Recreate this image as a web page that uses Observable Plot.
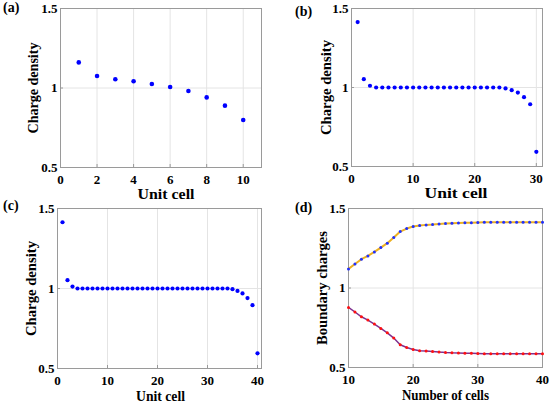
<!DOCTYPE html>
<html><head><meta charset="utf-8">
<script src="https://cdn.jsdelivr.net/npm/d3@7"></script>
<script src="https://cdn.jsdelivr.net/npm/@observablehq/plot@0.6"></script>
<style>
body{margin:0;background:#fff;}
#fig{position:relative;width:550px;height:406px;overflow:hidden;}
#fig svg{overflow:visible;}
#fig svg, #fig svg text{font-family:"Liberation Serif","Times New Roman",serif !important;font-weight:bold;}
.panel{position:absolute;}
.tag{position:absolute;font-family:"Liberation Serif","Times New Roman",serif;font-weight:bold;font-size:14px;line-height:1;}
</style></head>
<body><div id="fig"></div>
<script>
// ---- data ----
const cellsA = [1,2,3,4,5,6,7,8,9,10];
const densityA = [1.161,1.075,1.055,1.042,1.025,1.006,0.981,0.941,0.889,0.799];
const densityB = [1.414,1.053,1.011,
  1.0,1.0,1.0,1.0,1.0,1.0,1.0,1.0,1.0,1.0,1.0,1.0,1.0,1.0,1.0,1.0,1.0,1.0,1.0,1.0,1.0,
  0.994,0.983,0.968,0.939,0.894,0.593];
const densityC = [1.414,1.052,1.012,
  1.0,1.0,1.0,1.0,1.0,1.0,1.0,1.0,1.0,1.0,1.0,1.0,1.0,1.0,1.0,1.0,1.0,1.0,1.0,1.0,1.0,1.0,1.0,1.0,1.0,1.0,1.0,1.0,1.0,1.0,1.0,
  0.996,0.985,0.969,0.940,0.896,0.595];
const nCells = d3.range(10, 41);
const chargeUpper = [1.120,1.151,1.181,1.202,1.227,1.254,1.282,1.317,1.355,1.374,1.387,1.393,1.397,1.399,1.403,1.406,1.408,1.409,1.410,1.411,1.412,
  1.413,1.413,1.413,1.413,1.413,1.413,1.413,1.413,1.413,1.413];
const chargeLower = [0.878,0.849,0.819,0.798,0.773,0.746,0.718,0.685,0.643,0.626,0.613,0.605,0.603,0.601,0.597,0.594,0.592,0.591,0.590,0.589,0.588,
  0.587,0.587,0.587,0.587,0.587,0.587,0.587,0.587,0.587,0.587];
const yTicks = [0.5, 1, 1.5];
const xTicksA = [0,2,4,6,8,10];
const xTicksB = [0,10,20,30];
const xTicksC = [0,10,20,30,40];
const xTicksD = [10,20,30,40];

const fig = document.getElementById("fig");
const fmtY = d => d === 1 ? "1" : d3.format(".1f")(d);

function panel({left, top, width, height, ml, mr, mt, mb, xDomain, xTicks, xLabel, xLabelWidth, xLabelDx, xLabelOffset, yLabel, yLabelWidth, yLabelOffset, marks, tag, tagX, tagY}) {
  const p = Plot.plot({
    width, height,
    marginLeft: ml, marginRight: mr, marginTop: mt, marginBottom: mb,
    style: {fontSize: "13px", color: "#000", background: "transparent"},
    x: {domain: xDomain},
    y: {domain: [0.5, 1.5]},
    marks: [
      Plot.gridX(xTicks, {stroke: "#e4e4e4", strokeOpacity: 1}),
      Plot.gridY(yTicks, {stroke: "#e4e4e4", strokeOpacity: 1}),
      Plot.frame({stroke: "#9a9a9a"}),
      Plot.axisX(xTicks, {tickSize: -3, stroke: "#9a9a9a", tickPadding: 10, label: xLabel, labelAnchor: "center", labelArrow: "none", labelOffset: xLabelOffset, fontSize: 13}),
      Plot.axisY(yTicks, {tickSize: -3, stroke: "#9a9a9a", tickPadding: 6, tickFormat: fmtY, label: yLabel, labelAnchor: "center", labelArrow: "none", labelOffset: yLabelOffset, fontSize: 13}),
      ...marks
    ]
  });
  const xl = p.querySelector("g[aria-label='x-axis label'] text");
  if (xl) {
    xl.style.fontSize = "14.5px";
    xl.setAttribute("textLength", xLabelWidth);
    xl.setAttribute("lengthAdjust", "spacingAndGlyphs");
    if (xLabelDx) xl.setAttribute("dx", xLabelDx);
  }
  const yl = p.querySelector("g[aria-label='y-axis label'] text");
  if (yl) {
    yl.style.fontSize = "14.5px";
    yl.setAttribute("textLength", yLabelWidth);
    yl.setAttribute("lengthAdjust", "spacingAndGlyphs");
  }
  const div = document.createElement("div");
  div.className = "panel";
  div.style.left = left + "px"; div.style.top = top + "px";
  div.appendChild(p);
  fig.appendChild(div);
  const t = document.createElement("div");
  t.className = "tag"; t.textContent = tag;
  t.style.left = tagX + "px"; t.style.top = tagY + "px";
  fig.appendChild(t);
}

panel({left: 0, top: 0, width: 275, height: 200, ml: 60, mr: 14, mt: 8, mb: 33,
  xDomain: [0, 11], xTicks: xTicksA, xLabel: "Unit cell", xLabelWidth: 57, xLabelDx: 5, xLabelOffset: 31,
  yLabel: "Charge density", yLabelWidth: 91, yLabelOffset: 33,
  marks: [Plot.dot(cellsA, {x: d => d, y: (d, i) => densityA[i], r: 2.3, fill: "#0000ff", stroke: "none"})],
  tag: "(a)", tagX: 3, tagY: 1});

panel({left: 275, top: 0, width: 275, height: 200, ml: 76, mr: 8, mt: 8, mb: 34,
  xDomain: [0, 31], xTicks: xTicksB, xLabel: "Unit cell", xLabelWidth: 63, xLabelDx: 9, xLabelOffset: 31,
  yLabel: "Charge density", yLabelWidth: 95, yLabelOffset: 31,
  marks: [Plot.dot(densityB, {x: (d, i) => i + 1, y: d => d, r: 2.1, fill: "#0000ff", stroke: "none"})],
  tag: "(b)", tagX: 295, tagY: 5});

panel({left: 0, top: 200, width: 275, height: 206, ml: 57, mr: 14, mt: 8, mb: 38,
  xDomain: [0, 40.8], xTicks: xTicksC, xLabel: "Unit cell", xLabelWidth: 49, xLabelDx: 1, xLabelOffset: 32,
  yLabel: "Charge density", yLabelWidth: 95, yLabelOffset: 32,
  marks: [Plot.dot(densityC, {x: (d, i) => i + 1, y: d => d, r: 2.1, fill: "#0000ff", stroke: "none"})],
  tag: "(c)", tagX: 3, tagY: 199});

panel({left: 275, top: 200, width: 275, height: 206, ml: 73, mr: 8, mt: 8, mb: 39,
  xDomain: [10, 40], xTicks: xTicksD, xLabel: "Number of cells", xLabelWidth: 87, xLabelDx: 0, xLabelOffset: 32,
  yLabel: "Boundary charges", yLabelWidth: 114, yLabelOffset: 32,
  marks: [
    Plot.line(nCells, {x: d => d, y: (d, i) => chargeUpper[i], stroke: "#EDB120", strokeWidth: 2}),
    Plot.dot(nCells, {x: d => d, y: (d, i) => chargeUpper[i], r: 1.5, fill: "#2030ff", stroke: "none"}),
    Plot.line(nCells, {x: d => d, y: (d, i) => chargeLower[i], stroke: "#7E2F8E", strokeWidth: 1.5}),
    Plot.dot(nCells, {x: d => d, y: (d, i) => chargeLower[i], r: 1.5, fill: "#ff1010", stroke: "none"})
  ],
  tag: "(d)", tagX: 295, tagY: 201});
</script></body></html>
